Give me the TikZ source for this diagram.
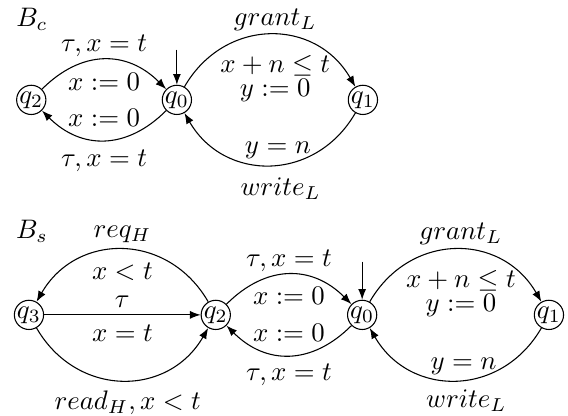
\documentclass[tikz,border=0pt]{standalone}
\usepackage{amsmath}
\usetikzlibrary{arrows.meta, positioning}

\begin{document}
\begin{tikzpicture}[
  >={Latex[length=4pt,width=3pt]},
  line width=0.4pt,
  state/.style={circle, draw, inner sep=0pt, minimum size=10.4pt},
  lbl/.style={inner sep=1pt},
  shortarc/.style={bend left=45, looseness=1.15},
  longarc/.style={bend left=60, looseness=1.2},
  longarcr/.style={bend right=60, looseness=1.2}
]
\useasboundingbox (0,0) rectangle (7.45,5.45);

% automaton B_c
\node (bc) at (0.42,5.19) {$B_c$};
\node[state] (c2) at (0.41,4.14) {$q_2$};
\node[state] (c0) at (2.32,4.14) {$q_0$};
\node[state] (c1) at (4.76,4.14) {$q_1$};
\coordinate (c0in) at (2.32,4.80);

\draw[->] (c0in) -- (c0);
\draw[->] (c2) to[shortarc] node[lbl, above=0pt] {$\tau, x = t$} node[lbl, below=4pt] {$x := 0$} (c0);
\draw[->] (c0) to[shortarc] node[lbl, above=4pt] {$x := 0$} node[lbl, below=2.5pt] {$\tau, x = t$} (c2);
\draw[->] (c0) to[longarc] node[lbl, above=0.5pt, xshift=2pt] {$grant_L$}
  node[lbl, below=6.5pt, align=center, xshift=2pt] {$x + n \le t$\\[-3pt]$y := 0$} (c1);
\draw[->] (c1) to[longarc] node[lbl, above=1pt, xshift=3pt] {$y = n$} node[lbl, below=3.5pt, xshift=4pt] {$write_L$} (c0);

% automaton B_s
\node (bs) at (0.42,2.41) {$B_s$};
\node[state] (s3) at (0.38,1.32) {$q_3$};
\node[state] (s2) at (2.83,1.32) {$q_2$};
\node[state] (s0) at (4.75,1.32) {$q_0$};
\node[state] (s1) at (7.20,1.32) {$q_1$};
\coordinate (s0in) at (4.75,2.02);

\draw[->] (s0in) -- (s0);
\draw[->] (s2) to[longarcr] node[lbl, above=1.5pt] {$req_H$} node[lbl, below=3.9pt] {$x < t$} (s3);
\draw[->] (s3) -- node[lbl, above=1.6pt] {$\tau$} node[lbl, below=2.7pt] {$x = t$} (s2);
\draw[->] (s3) to[longarcr] node[lbl, below=2.7pt, xshift=2pt] {$read_H, x < t$} (s2);
\draw[->] (s2) to[shortarc] node[lbl, above=0pt] {$\tau, x = t$} node[lbl, below=3.5pt] {$x := 0$} (s0);
\draw[->] (s0) to[shortarc] node[lbl, above=3.9pt] {$x := 0$} node[lbl, below=2pt] {$\tau, x = t$} (s2);
\draw[->] (s0) to[longarc] node[lbl, above=0.5pt, xshift=2pt] {$grant_L$}
  node[lbl, below=6.5pt, align=center, xshift=2pt] {$x + n \le t$\\[-3pt]$y := 0$} (s1);
\draw[->] (s1) to[longarc] node[lbl, above=1pt, xshift=3pt] {$y = n$} node[lbl, below=2.5pt, xshift=4pt] {$write_L$} (s0);
\end{tikzpicture}
\end{document}
